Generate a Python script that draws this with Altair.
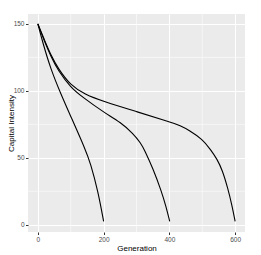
import altair as alt
import pandas as pd

# Values
gen_200 = [0, 15, 38, 71, 100, 145, 160, 183, 200]
cap_200 = [150, 136, 117, 97, 81, 56, 46, 25, 2.5]

gen_400 = [0, 20, 40, 62, 100, 135, 200, 252, 290, 313, 325, 350, 376, 390, 401]
cap_400 = [150, 137, 125.5, 115, 102.5, 95.5, 84, 76.5, 68, 61, 55.6, 42, 25, 13.5, 2.5]

gen_600 = [0, 20, 40, 62, 100, 142, 200, 300, 400, 434, 460, 500, 526, 545, 561, 578, 590, 600]
cap_600 = [150, 138, 126.5, 116.5, 104, 97.5, 92, 84.5, 77, 74, 70.5, 64, 56, 49, 41, 27, 15, 2.5]

x_major = [0, 200, 400, 600]
x_minor = [100, 300, 500]
y_major = [0, 50, 100, 150]
y_minor = [25, 75, 125]

rows = []
for name, g, c in [("200", gen_200, cap_200), ("400", gen_400, cap_400), ("600", gen_600, cap_600)]:
    for gi, ci in zip(g, c):
        rows.append({"series": name, "gen": gi, "cap": ci})
df = pd.DataFrame(rows)

xs = alt.Scale(domain=[-30, 630], nice=False, zero=False)
ys = alt.Scale(domain=[-5.4, 157.4], nice=False, zero=False)

axis_common = dict(
    domain=False,
    grid=True,
    gridColor="white",
    gridWidth=1.1,
    tickColor="#333333",
    tickSize=2.5,
    tickWidth=1,
    labelColor="#4D4D4D",
    labelFontSize=6.5,
    labelFont="Liberation Sans",
    labelPadding=1.5,
    titleFont="Liberation Sans",
    titleFontSize=8,
    titleFontWeight="normal",
    titleColor="black",
)
x_axis = alt.Axis(values=x_major, title="Generation", titlePadding=1.5, **axis_common)
y_axis = alt.Axis(values=y_major, title="Capital Intensity", titleX=-17, titleBaseline="middle", **axis_common)

minor_x = alt.Chart(pd.DataFrame({"v": x_minor})).mark_rule(color="white", strokeWidth=0.55).encode(
    x=alt.X("v:Q", scale=xs, axis=x_axis)
)
minor_y = alt.Chart(pd.DataFrame({"v": y_minor})).mark_rule(color="white", strokeWidth=0.55).encode(
    y=alt.Y("v:Q", scale=ys, axis=y_axis)
)

lines = alt.Chart(df).mark_line(color="black", strokeWidth=1.1, interpolate="basis").encode(
    x=alt.X("gen:Q", scale=xs, axis=x_axis),
    y=alt.Y("cap:Q", scale=ys, axis=y_axis),
    detail="series:N",
)

chart = alt.layer(minor_x, minor_y, lines).properties(
    width=217,
    height=218,
    autosize=alt.AutoSizeParams(type="none"),
    padding={"left": 20, "top": 6, "right": 8, "bottom": 21},
    background="white",
).configure_view(fill="#EBEBEB", stroke=None)

chart.save("out.html", embed_options={"renderer": "svg", "actions": False})
